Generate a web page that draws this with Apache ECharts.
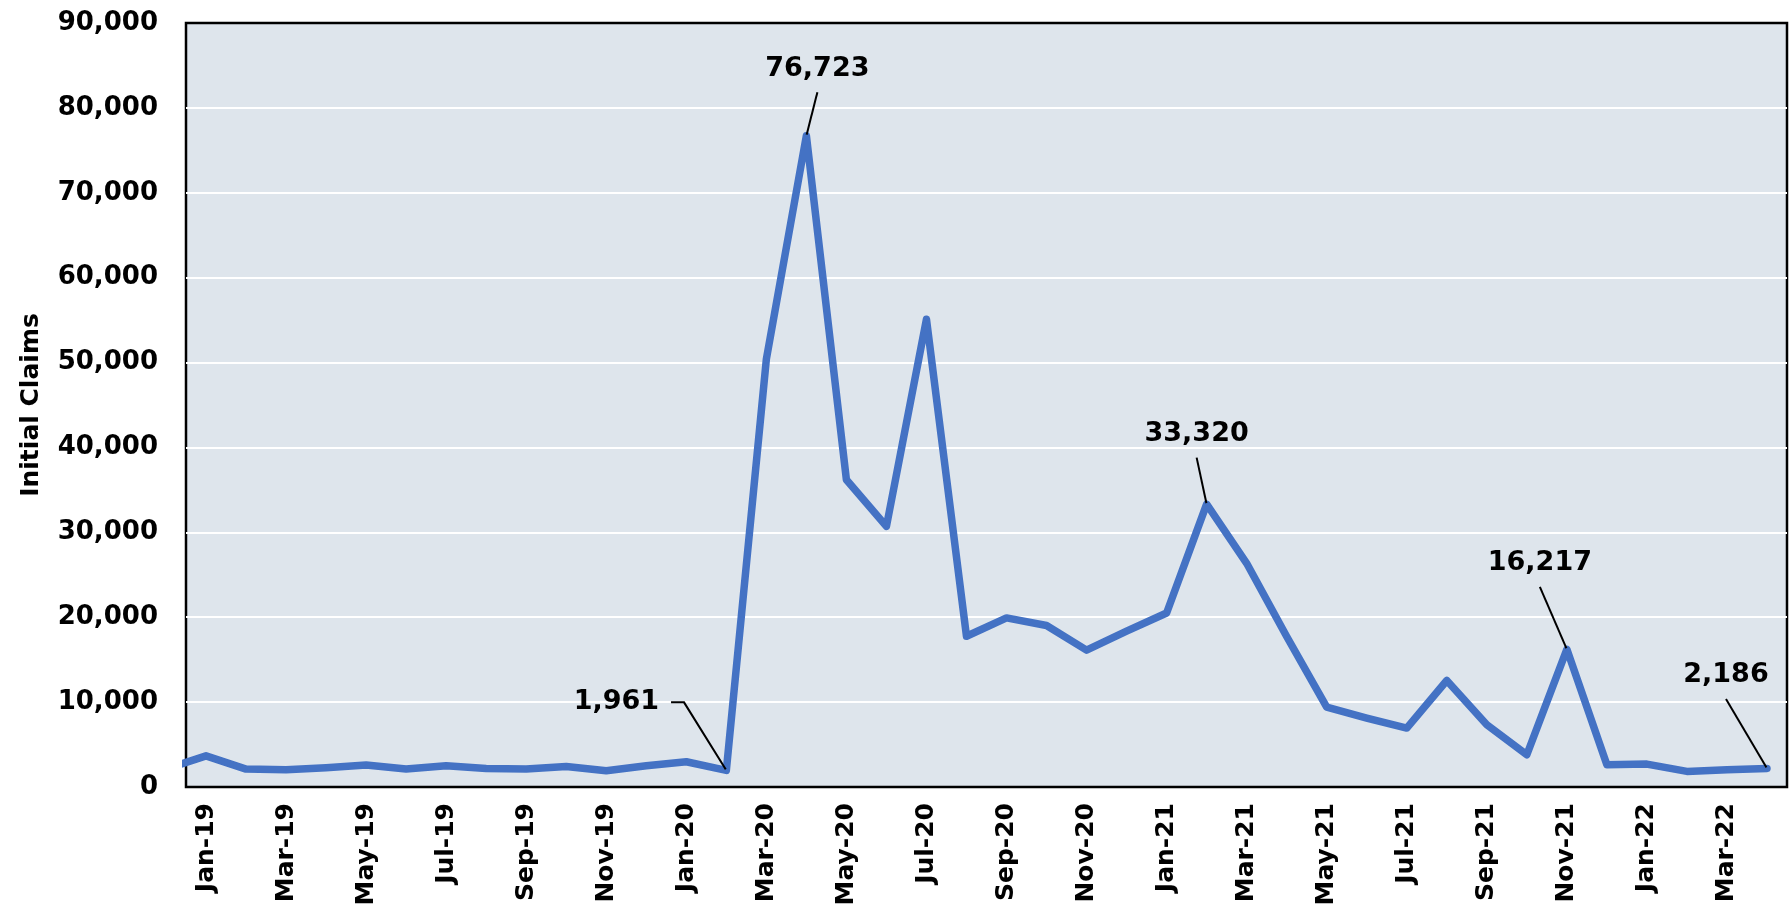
<!DOCTYPE html>
<html lang="en">
<head>
    <meta charset="UTF-8">
    <title>Initial Claims</title>
    <style>
        html, body {
            margin: 0;
            height: 100%;
            background: #fff;
        }
        #main {
            width: 1790px;
            height: 921px;
        }
    </style>
    <script src="https://cdn.jsdelivr.net/npm/echarts@6/dist/echarts.min.js"></script>
</head>
<body>
    <div id="main"></div>
    <script>
        // monthly initial claims, Dec-18 is only there so the line runs into the left edge
        const months = [
            'Dec-18',
            'Jan-19', 'Feb-19', 'Mar-19', 'Apr-19', 'May-19', 'Jun-19',
            'Jul-19', 'Aug-19', 'Sep-19', 'Oct-19', 'Nov-19', 'Dec-19',
            'Jan-20', 'Feb-20', 'Mar-20', 'Apr-20', 'May-20', 'Jun-20',
            'Jul-20', 'Aug-20', 'Sep-20', 'Oct-20', 'Nov-20', 'Dec-20',
            'Jan-21', 'Feb-21', 'Mar-21', 'Apr-21', 'May-21', 'Jun-21',
            'Jul-21', 'Aug-21', 'Sep-21', 'Oct-21', 'Nov-21', 'Dec-21',
            'Jan-22', 'Feb-22', 'Mar-22', 'Apr-22'
        ]
        const claims = [
            2110,
            3670, 2110, 2030, 2270, 2580, 2110,
            2500, 2190, 2110, 2420, 1910, 2500,
            2970, 1961, 50400, 76723, 36200, 30700,
            55100, 17760, 19920, 19020, 16120, 18350,
            20500, 33320, 26350, 17730, 9410, 8120,
            6940, 12550, 7330, 3800, 16217, 2630,
            2700, 1840, 2040, 2186
        ]
        // months whose value gets a callout
        const callouts = ['Feb-20', 'Apr-20', 'Feb-21', 'Nov-21', 'Apr-22']
        // x labels every other month, starting at Jan-19
        const tickMonths = [
            'Jan-19', 'Mar-19', 'May-19', 'Jul-19', 'Sep-19', 'Nov-19',
            'Jan-20', 'Mar-20', 'May-20', 'Jul-20', 'Sep-20', 'Nov-20',
            'Jan-21', 'Mar-21', 'May-21', 'Jul-21', 'Sep-21', 'Nov-21',
            'Jan-22', 'Mar-22'
        ]
        const yMax = 90000
        const yStep = 10000

        // where each callout label sits relative to its point (px)
        const calloutPos = {
            'Feb-20': { dx: -110, dy: -68, elbow: 13 },
            'Apr-20': { dx: 11, dy: -67, elbow: 0 },
            'Feb-21': { dx: -10, dy: -70, elbow: 0 },
            'Nov-21': { dx: -27, dy: -86, elbow: 0 },
            'Apr-22': { dx: -41, dy: -93, elbow: 0 }
        }

        const font = 'DejaVu Sans'
        const fmt = v => v.toLocaleString('en-US')

        const seriesData = claims.map((v, i) => {
            const item = { value: [i, v] }
            if (callouts.includes(months[i])) {
                item.label = { show: true }
                item.labelLine = { show: true, length2: calloutPos[months[i]].elbow }
            }
            return item
        })

        const chart = echarts.init(document.getElementById('main'))

        chart.setOption({
            animation: false,
            backgroundColor: '#fff',
            grid: {
                left: 186,
                right: 3,
                top: 23,
                bottom: 134,
                show: true,
                backgroundColor: '#dee5ec',
                borderColor: '#000',
                borderWidth: 2.5
            },
            xAxis: {
                type: 'value',
                min: 0.5,
                max: months.length - 0.5,
                axisLine: { show: false },
                axisTick: { show: false },
                splitLine: { show: false },
                axisLabel: {
                    customValues: tickMonths.map(m => months.indexOf(m)),
                    formatter: v => months[v],
                    rotate: 90,
                    margin: 16,
                    color: '#000',
                    fontFamily: font,
                    fontWeight: 'bold',
                    fontSize: 25
                }
            },
            yAxis: {
                type: 'value',
                min: 0,
                max: yMax,
                interval: yStep,
                name: 'Initial Claims',
                nameLocation: 'middle',
                nameRotate: 90,
                nameGap: 142,
                nameTextStyle: {
                    color: '#000',
                    fontFamily: font,
                    fontWeight: 'bold',
                    fontSize: 25
                },
                axisLine: { show: false },
                axisTick: { show: false },
                splitLine: {
                    showMinLine: false,
                    showMaxLine: false,
                    lineStyle: { color: '#fff', width: 2 }
                },
                axisLabel: {
                    formatter: fmt,
                    margin: 28,
                    color: '#000',
                    fontFamily: font,
                    fontWeight: 'bold',
                    fontSize: 26
                }
            },
            series: [{
                type: 'line',
                data: seriesData,
                clip: true,
                symbol: 'circle',
                symbolSize: 2,
                showSymbol: true,
                itemStyle: { color: '#4472c4' },
                lineStyle: { color: '#4472c4', width: 7.5, join: 'round', cap: 'round' },
                label: {
                    show: false,
                    position: 'inside',
                    formatter: p => fmt(p.value[1]),
                    color: '#000',
                    fontFamily: font,
                    fontWeight: 'bold',
                    fontSize: 27,
                    padding: [10, 12],
                    backgroundColor: 'rgba(0,0,0,0)'
                },
                labelLine: {
                    lineStyle: { color: '#000', width: 2 }
                },
                labelLayout: p => {
                    const pos = calloutPos[months[p.dataIndex]]
                    return pos ? { dx: pos.dx, dy: pos.dy } : {}
                }
            }]
        })
    </script>
</body>
</html>
